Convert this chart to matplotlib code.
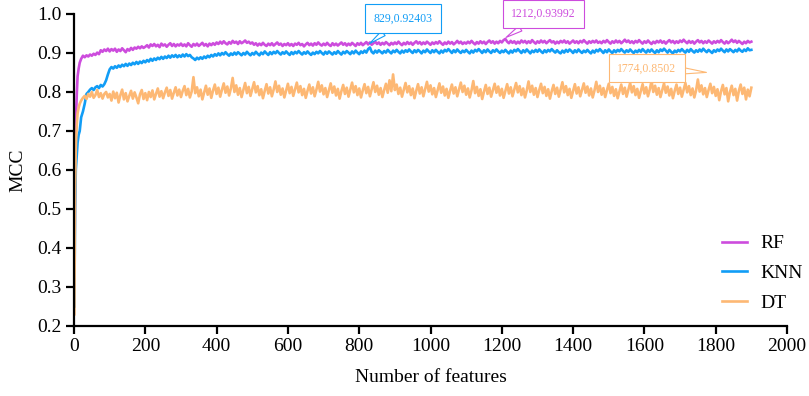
import matplotlib
matplotlib.use("Agg")
import matplotlib.pyplot as plt

plt.rcParams['font.family'] = ['Liberation Serif', 'DejaVu Serif']

# feature counts where MCC was read off the curves: fine steps while the
# curves climb, then every 5 features up to 1900
n_early = [1, 3, 5, 8, 10, 13, 16, 20, 25, 30, 35, 40, 45, 50, 55, 60, 65, 70, 75, 80, 85, 90, 95]
n_features = n_early + list(range(100, 1901, 5))

mcc_rf = [0.30, 0.62, 0.72, 0.80, 0.84, 0.86, 0.875, 0.885, 0.893, 0.889, 0.894, 0.891, 0.896, 0.893,
          0.898, 0.895, 0.901, 0.897, 0.907, 0.903, 0.909, 0.905, 0.911,
          0.904, 0.910, 0.906, 0.911, 0.903, 0.909, 0.905, 0.912, 0.907, 0.902,
          0.910, 0.906, 0.913, 0.908, 0.914, 0.911, 0.916, 0.912, 0.917, 0.913,
          0.916, 0.920, 0.914, 0.922, 0.918, 0.923, 0.917, 0.921, 0.915, 0.924,
          0.919, 0.922, 0.916, 0.921, 0.925, 0.918, 0.923, 0.917, 0.922, 0.919,
          0.924, 0.918, 0.922, 0.917, 0.925, 0.920, 0.916, 0.923, 0.919, 0.924,
          0.918, 0.922, 0.926, 0.919, 0.923, 0.917, 0.924, 0.920, 0.925, 0.921,
          0.927, 0.923, 0.929, 0.924, 0.930, 0.925, 0.922, 0.928, 0.924, 0.931,
          0.926, 0.929, 0.923, 0.930, 0.925, 0.928, 0.932, 0.926, 0.929, 0.924,
          0.927, 0.921, 0.925, 0.919, 0.924, 0.920, 0.926, 0.921, 0.918, 0.924,
          0.920, 0.925, 0.919, 0.923, 0.927, 0.921, 0.924, 0.918, 0.923, 0.920,
          0.925, 0.919, 0.923, 0.918, 0.924, 0.921, 0.926, 0.920, 0.923, 0.917,
          0.922, 0.926, 0.920, 0.924, 0.919, 0.925, 0.921, 0.927, 0.922, 0.919,
          0.924, 0.920, 0.926, 0.921, 0.918, 0.925, 0.920, 0.924, 0.919, 0.923,
          0.927, 0.921, 0.925, 0.919, 0.924, 0.920, 0.926, 0.922, 0.918, 0.925,
          0.921, 0.926, 0.920, 0.924, 0.928, 0.922, 0.927, 0.921, 0.925, 0.929,
          0.923, 0.927, 0.921, 0.926, 0.922, 0.928, 0.924, 0.920, 0.926, 0.922,
          0.927, 0.923, 0.929, 0.924, 0.920, 0.926, 0.922, 0.928, 0.923, 0.927,
          0.921, 0.926, 0.930, 0.924, 0.928, 0.922, 0.927, 0.923, 0.929, 0.925,
          0.921, 0.927, 0.923, 0.928, 0.924, 0.930, 0.925, 0.921, 0.927, 0.923,
          0.929, 0.924, 0.928, 0.922, 0.926, 0.931, 0.925, 0.929, 0.923, 0.927,
          0.924, 0.929, 0.925, 0.931, 0.926, 0.922, 0.928, 0.924, 0.930, 0.925,
          0.929, 0.923, 0.928, 0.932, 0.926, 0.930, 0.924, 0.929, 0.925, 0.931,
          0.927, 0.933, 0.936, 0.929, 0.925, 0.931, 0.926, 0.930, 0.924, 0.929,
          0.925, 0.932, 0.927, 0.931, 0.925, 0.930, 0.926, 0.933, 0.928, 0.924,
          0.930, 0.926, 0.932, 0.927, 0.931, 0.925, 0.929, 0.933, 0.927, 0.930,
          0.924, 0.929, 0.925, 0.931, 0.927, 0.932, 0.926, 0.930, 0.924, 0.928,
          0.932, 0.926, 0.930, 0.925, 0.931, 0.927, 0.933, 0.928, 0.924, 0.930,
          0.926, 0.931, 0.927, 0.932, 0.926, 0.929, 0.925, 0.931, 0.927, 0.933,
          0.928, 0.924, 0.930, 0.926, 0.932, 0.927, 0.931, 0.925, 0.929, 0.934,
          0.928, 0.932, 0.926, 0.930, 0.925, 0.931, 0.927, 0.933, 0.928, 0.924,
          0.930, 0.926, 0.932, 0.927, 0.923, 0.929, 0.925, 0.931, 0.927, 0.932,
          0.926, 0.930, 0.924, 0.929, 0.933, 0.927, 0.931, 0.925, 0.930, 0.926,
          0.932, 0.928, 0.934, 0.929, 0.925, 0.931, 0.926, 0.930, 0.924, 0.929,
          0.933, 0.927, 0.931, 0.925, 0.930, 0.926, 0.932, 0.928, 0.924, 0.930,
          0.926, 0.931, 0.927, 0.933, 0.928, 0.924, 0.930, 0.925, 0.929, 0.934,
          0.928, 0.932, 0.926, 0.931, 0.927, 0.923, 0.929, 0.925, 0.931, 0.927,
          0.929]

mcc_knn = [0.25, 0.50, 0.60, 0.64, 0.67, 0.69, 0.70, 0.735, 0.75, 0.77, 0.795, 0.80, 0.806, 0.81,
           0.805, 0.812, 0.815, 0.81, 0.818, 0.814, 0.82, 0.83, 0.845,
           0.858, 0.864, 0.860, 0.866, 0.862, 0.868, 0.864, 0.870, 0.866, 0.872,
           0.867, 0.873, 0.869, 0.875, 0.871, 0.877, 0.872, 0.878, 0.874, 0.880,
           0.876, 0.882, 0.878, 0.885, 0.880, 0.886, 0.882, 0.888, 0.884, 0.890,
           0.885, 0.891, 0.887, 0.893, 0.888, 0.894, 0.890, 0.895, 0.889, 0.894,
           0.890, 0.896, 0.891, 0.897, 0.892, 0.895, 0.889, 0.886, 0.882, 0.888,
           0.884, 0.889, 0.885, 0.891, 0.887, 0.893, 0.889, 0.895, 0.891, 0.897,
           0.893, 0.899, 0.894, 0.900, 0.896, 0.902, 0.897, 0.893, 0.899, 0.895,
           0.901, 0.896, 0.902, 0.898, 0.894, 0.900, 0.896, 0.903, 0.898, 0.894,
           0.900, 0.896, 0.903, 0.898, 0.894, 0.901, 0.897, 0.904, 0.899, 0.895,
           0.902, 0.897, 0.903, 0.899, 0.905, 0.900, 0.896, 0.902, 0.898, 0.904,
           0.899, 0.895, 0.902, 0.897, 0.903, 0.899, 0.905, 0.900, 0.896, 0.902,
           0.898, 0.904, 0.899, 0.895, 0.901, 0.897, 0.903, 0.899, 0.905, 0.900,
           0.896, 0.903, 0.898, 0.904, 0.900, 0.896, 0.902, 0.898, 0.905, 0.900,
           0.896, 0.903, 0.899, 0.905, 0.901, 0.897, 0.904, 0.899, 0.906, 0.901,
           0.897, 0.904, 0.900, 0.906, 0.901, 0.910, 0.914, 0.903, 0.899, 0.906,
           0.901, 0.907, 0.903, 0.899, 0.905, 0.901, 0.908, 0.903, 0.899, 0.906,
           0.902, 0.908, 0.903, 0.899, 0.906, 0.901, 0.907, 0.903, 0.909, 0.904,
           0.900, 0.907, 0.902, 0.908, 0.904, 0.899, 0.906, 0.902, 0.909, 0.904,
           0.900, 0.907, 0.902, 0.908, 0.903, 0.899, 0.906, 0.901, 0.908, 0.904,
           0.910, 0.905, 0.900, 0.907, 0.902, 0.909, 0.904, 0.900, 0.906, 0.902,
           0.908, 0.903, 0.899, 0.906, 0.901, 0.908, 0.904, 0.910, 0.905, 0.900,
           0.907, 0.902, 0.909, 0.904, 0.900, 0.907, 0.903, 0.909, 0.904, 0.900,
           0.906, 0.902, 0.908, 0.903, 0.899, 0.906, 0.901, 0.908, 0.904, 0.910,
           0.905, 0.900, 0.907, 0.902, 0.909, 0.904, 0.899, 0.906, 0.902, 0.908,
           0.903, 0.909, 0.904, 0.900, 0.907, 0.902, 0.908, 0.904, 0.910, 0.905,
           0.901, 0.907, 0.902, 0.899, 0.906, 0.901, 0.908, 0.903, 0.909, 0.905,
           0.900, 0.907, 0.902, 0.909, 0.904, 0.900, 0.906, 0.902, 0.908, 0.903,
           0.899, 0.906, 0.901, 0.908, 0.904, 0.910, 0.905, 0.900, 0.907, 0.902,
           0.909, 0.904, 0.900, 0.907, 0.902, 0.908, 0.904, 0.910, 0.905, 0.901,
           0.907, 0.903, 0.909, 0.904, 0.900, 0.906, 0.902, 0.908, 0.903, 0.910,
           0.905, 0.901, 0.908, 0.903, 0.909, 0.904, 0.900, 0.907, 0.902, 0.909,
           0.905, 0.911, 0.906, 0.901, 0.908, 0.903, 0.899, 0.906, 0.902, 0.908,
           0.904, 0.910, 0.905, 0.901, 0.908, 0.903, 0.910, 0.905, 0.901, 0.907,
           0.903, 0.909, 0.904, 0.911, 0.906, 0.902, 0.908, 0.904, 0.900, 0.907,
           0.903, 0.909, 0.905, 0.911, 0.906, 0.902, 0.909, 0.904, 0.910, 0.906,
           0.902, 0.908, 0.904, 0.911, 0.906, 0.903, 0.909, 0.905, 0.912, 0.907,
           0.908]

mcc_dt = [0.23, 0.55, 0.66, 0.72, 0.745, 0.76, 0.77, 0.778, 0.785, 0.79, 0.782, 0.795, 0.788, 0.80,
          0.785, 0.792, 0.805, 0.787, 0.797, 0.783, 0.795, 0.80, 0.786,
          0.795, 0.778, 0.801, 0.784, 0.798, 0.773, 0.792, 0.806, 0.781, 0.797,
          0.776, 0.790, 0.803, 0.783, 0.799, 0.786, 0.771, 0.794, 0.805, 0.782,
          0.797, 0.779, 0.800, 0.787, 0.804, 0.781, 0.795, 0.809, 0.788, 0.802,
          0.784, 0.799, 0.811, 0.790, 0.805, 0.783, 0.798, 0.812, 0.791, 0.806,
          0.787, 0.803, 0.815, 0.792, 0.808, 0.786, 0.801, 0.838, 0.797, 0.812,
          0.789, 0.806, 0.781, 0.799, 0.816, 0.793, 0.809, 0.785, 0.804, 0.819,
          0.795, 0.811, 0.788, 0.806, 0.822, 0.798, 0.814, 0.791, 0.809, 0.836,
          0.800, 0.817, 0.793, 0.810, 0.787, 0.805, 0.823, 0.797, 0.813, 0.790,
          0.808, 0.825, 0.799, 0.815, 0.792, 0.807, 0.784, 0.803, 0.820, 0.796,
          0.812, 0.789, 0.806, 0.827, 0.800, 0.816, 0.793, 0.809, 0.786, 0.804,
          0.821, 0.797, 0.813, 0.790, 0.807, 0.824, 0.799, 0.815, 0.792, 0.808,
          0.785, 0.803, 0.819, 0.796, 0.812, 0.789, 0.806, 0.826, 0.801, 0.817,
          0.794, 0.810, 0.787, 0.805, 0.822, 0.798, 0.814, 0.791, 0.808, 0.783,
          0.802, 0.818, 0.795, 0.811, 0.788, 0.806, 0.824, 0.799, 0.815, 0.792,
          0.809, 0.786, 0.804, 0.820, 0.797, 0.813, 0.789, 0.807, 0.825, 0.800,
          0.816, 0.793, 0.810, 0.787, 0.805, 0.821, 0.798, 0.830, 0.802, 0.845,
          0.805, 0.819, 0.795, 0.811, 0.788, 0.806, 0.823, 0.799, 0.815, 0.792,
          0.809, 0.784, 0.803, 0.820, 0.796, 0.812, 0.789, 0.807, 0.826, 0.801,
          0.817, 0.794, 0.810, 0.787, 0.805, 0.822, 0.798, 0.814, 0.791, 0.808,
          0.785, 0.803, 0.819, 0.796, 0.812, 0.789, 0.806, 0.824, 0.800, 0.816,
          0.793, 0.809, 0.786, 0.804, 0.828, 0.797, 0.813, 0.790, 0.807, 0.782,
          0.801, 0.818, 0.795, 0.811, 0.788, 0.805, 0.821, 0.798, 0.814, 0.791,
          0.808, 0.785, 0.803, 0.820, 0.796, 0.812, 0.789, 0.806, 0.823, 0.799,
          0.815, 0.792, 0.809, 0.786, 0.804, 0.827, 0.800, 0.816, 0.793, 0.810,
          0.787, 0.805, 0.821, 0.797, 0.813, 0.790, 0.807, 0.783, 0.802, 0.818,
          0.795, 0.811, 0.788, 0.806, 0.825, 0.799, 0.815, 0.792, 0.808, 0.785,
          0.803, 0.820, 0.796, 0.812, 0.789, 0.806, 0.822, 0.798, 0.814, 0.791,
          0.809, 0.786, 0.804, 0.826, 0.800, 0.816, 0.793, 0.810, 0.787, 0.805,
          0.821, 0.797, 0.813, 0.790, 0.807, 0.784, 0.802, 0.819, 0.795, 0.811,
          0.788, 0.806, 0.823, 0.799, 0.815, 0.792, 0.808, 0.785, 0.803, 0.820,
          0.796, 0.812, 0.789, 0.806, 0.829, 0.800, 0.816, 0.793, 0.810, 0.787,
          0.805, 0.822, 0.798, 0.814, 0.791, 0.808, 0.784, 0.803, 0.819, 0.795,
          0.811, 0.788, 0.806, 0.823, 0.799, 0.815, 0.792, 0.809, 0.786, 0.804,
          0.832, 0.801, 0.817, 0.794, 0.810, 0.787, 0.805, 0.821, 0.797, 0.813,
          0.790, 0.807, 0.779, 0.802, 0.818, 0.794, 0.810, 0.776, 0.800, 0.816,
          0.792, 0.808, 0.778, 0.803, 0.819, 0.795, 0.811, 0.781, 0.806, 0.789,
          0.811]

# peak callouts: (feature count, MCC)
peak_knn = (829, 0.92403)
peak_rf = (1212, 0.93992)
peak_dt = (1774, 0.8502)

c_rf = '#CD4CDD'
c_knn = '#119DF6'
c_dt = '#FDB874'

fig = plt.figure(figsize=(8.09, 3.96), dpi=100)
ax = fig.add_axes([0.0915, 0.1768, 0.8813, 0.7879])

ax.plot(n_features, mcc_rf, color=c_rf, lw=1.9, label='RF')
ax.plot(n_features, mcc_knn, color=c_knn, lw=1.9, label='KNN')
ax.plot(n_features, mcc_dt, color=c_dt, lw=1.9, label='DT')

ax.set_xlim(0, 2000)
ax.set_ylim(0.2, 1.0)
ax.set_xticks(range(0, 2001, 200))
ax.set_yticks([0.2, 0.3, 0.4, 0.5, 0.6, 0.7, 0.8, 0.9, 1.0])
ax.set_yticklabels([f'{v:.1f}' for v in ax.get_yticks()])

for s in ['top', 'right']:
    ax.spines[s].set_visible(False)
for s in ['left', 'bottom']:
    ax.spines[s].set_linewidth(1.6)
ax.tick_params(axis='both', direction='out', length=6, width=1.6, labelsize=14, pad=3)

ax.set_xlabel('Number of features', fontsize=14, labelpad=10)
ax.set_ylabel('MCC', fontsize=14, labelpad=8)


def callout(pt, color, dx, dy):
    label = f'{pt[0]},{pt[1]}'
    ax.annotate(label, xy=pt, xytext=(dx, dy), textcoords='offset points',
                ha='center', va='center', fontsize=8.5, color=color,
                bbox=dict(boxstyle='square,pad=0.7', fc='white', ec=color, lw=0.8),
                arrowprops=dict(arrowstyle='wedge,tail_width=0.5,shrink_factor=0.5',
                                fc='white', ec=color, lw=0.8, shrinkA=0, shrinkB=0))


callout(peak_knn, c_knn, 24, 18)
callout(peak_rf, c_rf, 27, 17)
callout(peak_dt, c_dt, -43, 3)

ax.legend(loc='upper left', bbox_to_anchor=(0.8925, 0.407), bbox_transform=fig.transFigure,
          frameon=False, fontsize=14, handlelength=1.3, handletextpad=0.67,
          labelspacing=0.63, borderpad=0, borderaxespad=0)

fig.savefig('out.png', dpi=100)
